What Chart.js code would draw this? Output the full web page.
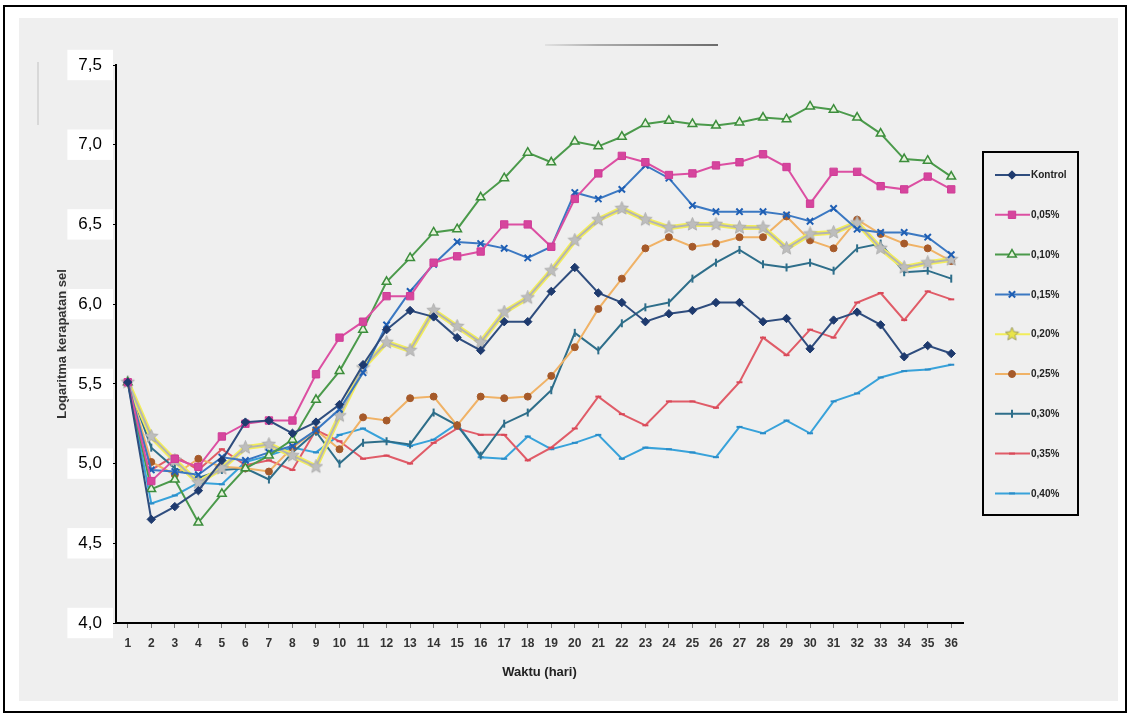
<!DOCTYPE html>
<html>
<head>
<meta charset="utf-8">
<script src="https://cdn.jsdelivr.net/npm/chart.js@4.4.1/dist/chart.umd.min.js"></script>
<style>
  html, body { margin: 0; padding: 0; background: #fff; }
  canvas { display: block; }
</style>
</head>
<body>
<canvas id="growth" width="1129" height="717"></canvas>
<script>
// Days of observation (x categories)
const days = ['1','2','3','4','5','6','7','8','9','10','11','12','13','14','15','16','17','18',
              '19','20','21','22','23','24','25','26','27','28','29','30','31','32','33','34','35','36'];

// Log of cell density per treatment
const kontrol = [5.51,4.65,4.73,4.83,5.02,5.26,5.27,5.19,5.26,5.37,5.62,5.84,5.96,5.92,5.79,5.71,5.89,5.89,
                 6.08,6.23,6.07,6.01,5.89,5.94,5.96,6.01,6.01,5.89,5.91,5.72,5.90,5.95,5.87,5.67,5.74,5.69];
const c005 = [5.51,4.89,5.03,4.98,5.17,5.25,5.27,5.27,5.56,5.79,5.89,6.05,6.05,6.26,6.30,6.33,6.50,6.50,
              6.36,6.66,6.82,6.93,6.89,6.81,6.82,6.87,6.89,6.94,6.86,6.63,6.83,6.83,6.74,6.72,6.80,6.72];
const c010 = [5.51,4.84,4.90,4.63,4.81,4.97,5.05,5.15,5.40,5.58,5.84,6.14,6.29,6.45,6.47,6.67,6.79,6.95,
              6.89,7.02,6.99,7.05,7.13,7.15,7.13,7.12,7.14,7.17,7.16,7.24,7.22,7.17,7.07,6.91,6.90,6.80];
const c015 = [5.51,4.96,4.95,4.93,5.04,5.02,5.07,5.11,5.21,5.34,5.57,5.87,6.08,6.25,6.39,6.38,6.35,6.29,
              6.36,6.70,6.66,6.72,6.87,6.79,6.62,6.58,6.58,6.58,6.56,6.52,6.60,6.47,6.45,6.45,6.42,6.31];
const c020 = [5.51,5.17,5.02,4.88,4.97,5.10,5.12,5.05,4.98,5.30,5.60,5.76,5.71,5.96,5.86,5.76,5.95,6.04,
              6.21,6.40,6.53,6.60,6.53,6.48,6.50,6.50,6.48,6.48,6.35,6.44,6.45,6.51,6.35,6.23,6.26,6.28];
const c025 = [5.51,5.01,4.93,5.03,4.98,4.97,4.95,5.10,5.21,5.09,5.29,5.27,5.41,5.42,5.24,5.42,5.41,5.42,
              5.55,5.73,5.97,6.16,6.35,6.42,6.36,6.38,6.42,6.42,6.55,6.40,6.35,6.53,6.44,6.38,6.35,6.27];
const c030 = [5.51,5.10,4.97,4.91,4.96,4.97,4.90,5.07,5.20,5.00,5.13,5.14,5.12,5.32,5.24,5.05,5.25,5.32,
              5.46,5.82,5.71,5.88,5.98,6.01,6.16,6.26,6.34,6.25,6.23,6.26,6.21,6.35,6.38,6.20,6.21,6.16];
const c035 = [5.51,4.96,5.05,4.96,5.09,4.99,5.02,4.96,5.21,5.14,5.03,5.05,5.00,5.13,5.22,5.18,5.18,5.02,
              5.10,5.22,5.42,5.31,5.24,5.39,5.39,5.35,5.51,5.79,5.68,5.84,5.79,6.01,6.07,5.90,6.08,6.03];
const c040 = [5.51,4.75,4.80,4.88,4.87,5.01,5.05,5.10,5.07,5.18,5.22,5.14,5.11,5.15,5.25,5.04,5.03,5.17,
              5.09,5.13,5.18,5.03,5.10,5.09,5.07,5.04,5.23,5.19,5.27,5.19,5.39,5.44,5.54,5.58,5.59,5.62];

const seriesLabels = ['Kontrol','0,05%','0,10%','0,15%','0,20%','0,25%','0,30%','0,35%','0,40%'];

const yMin = 4.0, yMax = 7.5, yStep = 0.5;
const xTitle = 'Waktu (hari)';
const yTitle = 'Logaritma kerapatan sel';

// filled five-point star used as a point marker
function starMarker(size, fill, stroke) {
  const cv = document.createElement('canvas');
  cv.width = size; cv.height = size;
  const g = cv.getContext('2d');
  const c = size / 2, R = size / 2 - 0.5, r = R * 0.45;
  g.beginPath();
  for (let i = 0; i < 10; i++) {
    const a = -Math.PI / 2 + i * Math.PI / 5;
    const rad = i % 2 ? r : R;
    g.lineTo(c + rad * Math.cos(a), c + rad * Math.sin(a));
  }
  g.closePath();
  g.fillStyle = fill; g.fill();
  if (stroke) { g.strokeStyle = stroke; g.lineWidth = 0.8; g.stroke(); }
  return cv;
}
const greyStar = starMarker(15, '#bdbdbd', '#a8a8a8');
const legendStar = starMarker(15, '#e9e44a', '#8a8a50');

const styles = [
  { data: kontrol, line: '#2f4d7e', point: '#1e3a6e', fill: '#1e3a6e', ps: 'rectRot', r: 4.2, bw: 1 },
  { data: c005, line: '#dc4fa2', point: '#cf3c97', fill: '#d6459d', ps: 'rect', r: 5.2, bw: 1 },
  { data: c010, line: '#4b9a4b', point: '#3c8d3c', fill: '#e6f3dc', ps: 'triangle', r: 5, bw: 1.5 },
  { data: c015, line: '#3b78c2', point: '#1f5fb4', fill: '#1f5fb4', ps: 'crossRot', r: 4.5, bw: 2 },
  { data: c020, line: '#b4b4b4', point: '#b4b4b4', fill: '#b4b4b4', ps: greyStar, r: 7, bw: 1, halo: '#f2ed5a' },
  { data: c025, line: '#f0b266', point: '#a65a2a', fill: '#a65a2a', ps: 'circle', r: 3.5, bw: 1 },
  { data: c030, line: '#2e6e8a', point: '#2e6e8a', fill: '#2e6e8a', ps: 'line', rot: 90, r: 4, bw: 2 },
  { data: c035, line: '#e05c68', point: '#d94858', fill: '#d94858', ps: 'line', r: 3, bw: 2 },
  { data: c040, line: '#38a2da', point: '#2a8cc8', fill: '#2a8cc8', ps: 'line', r: 3, bw: 2 }
];

const datasets = [];
styles.forEach((s, i) => {
  datasets.push({
    label: seriesLabels[i],
    data: s.data,
    borderColor: s.line,
    borderWidth: 2,
    pointStyle: s.ps,
    pointRotation: s.rot || 0,
    pointRadius: s.r,
    pointBorderColor: s.point,
    pointBackgroundColor: s.fill,
    pointBorderWidth: s.bw,
    tension: 0,
    order: i + 1
  });
  if (s.halo) {
    // yellow glow beneath the grey 0,20% line
    datasets.push({
      label: seriesLabels[i] + ' halo',
      data: s.data,
      borderColor: s.halo,
      borderWidth: 5,
      pointRadius: 0,
      tension: 0,
      order: i + 1.5
    });
  }
});

const FONT = "'Liberation Sans', Arial, sans-serif";

const backdrop = {
  id: 'backdrop',
  beforeDraw(chart) {
    const ctx = chart.ctx;
    ctx.save();
    ctx.fillStyle = '#ffffff';
    ctx.fillRect(0, 0, chart.width, chart.height);
    ctx.fillStyle = '#efefef';
    ctx.fillRect(19, 18, 1099, 683);
    ctx.strokeStyle = '#000';
    ctx.lineWidth = 2;
    ctx.strokeRect(4, 6, 1122, 706);
    // faint marks on the sheet
    const grad = ctx.createLinearGradient(545, 0, 720, 0);
    grad.addColorStop(0, 'rgba(60,60,60,0.1)');
    grad.addColorStop(0.3, 'rgba(40,40,40,0.45)');
    grad.addColorStop(1, 'rgba(30,30,30,0.85)');
    ctx.strokeStyle = grad;
    ctx.lineWidth = 1.6;
    ctx.beginPath(); ctx.moveTo(545, 45); ctx.lineTo(718, 45); ctx.stroke();
    ctx.strokeStyle = 'rgba(150,150,150,0.5)';
    ctx.lineWidth = 1;
    ctx.beginPath(); ctx.moveTo(38, 62); ctx.lineTo(38, 125); ctx.stroke();
    ctx.restore();
  }
};

const legendBox = {
  id: 'legendBox',
  afterDraw(chart) {
    const ctx = chart.ctx;
    ctx.save();
    ctx.strokeStyle = '#000';
    ctx.lineWidth = 2;
    ctx.strokeRect(983, 152, 95, 363);
    styles.forEach((s, i) => {
      const y = 175 + i * 39.8;
      ctx.lineWidth = 2;
      ctx.strokeStyle = s.halo ? s.halo : s.line;
      ctx.beginPath(); ctx.moveTo(995, y); ctx.lineTo(1030, y); ctx.stroke();
      ctx.fillStyle = s.fill;
      ctx.strokeStyle = s.point;
      ctx.lineWidth = s.bw;
      Chart.helpers.drawPoint(ctx, {
        pointStyle: s.halo ? legendStar : s.ps,
        rotation: s.rot || 0,
        radius: s.r,
        borderWidth: s.bw
      }, 1012, y);
      ctx.fillStyle = '#222';
      ctx.font = 'bold 10px ' + FONT;
      ctx.textAlign = 'left';
      ctx.textBaseline = 'middle';
      ctx.fillText(seriesLabels[i], 1031, y + 0.5);
    });
    ctx.restore();
  }
};

new Chart(document.getElementById('growth'), {
  type: 'line',
  data: { labels: days, datasets },
  options: {
    responsive: false,
    animation: false,
    events: [],
    layout: { padding: { left: 0, top: 65, right: 166, bottom: 14 } },
    plugins: { legend: { display: false }, tooltip: { enabled: false } },
    scales: {
      x: {
        type: 'category',
        offset: true,
        grid: { display: true, drawOnChartArea: false, tickLength: 5, color: '#777', offset: false },
        border: { color: '#000', width: 2 },
        ticks: { autoSkip: false, maxRotation: 0, padding: 8, color: '#333',
                 font: { family: FONT, size: 12, weight: 'bold' } },
        title: { display: true, text: xTitle, color: '#222',
                 font: { family: FONT, size: 13, weight: 'bold' }, padding: { top: 0, bottom: 23 } },
        afterFit(scale) { scale.height = 80; }
      },
      y: {
        min: yMin, max: yMax,
        grid: { display: true, drawOnChartArea: false, tickLength: 4, color: '#000' },
        border: { color: '#000', width: 2 },
        ticks: {
          stepSize: yStep, padding: 10, color: '#000',
          font: { family: FONT, size: 17 },
          showLabelBackdrop: true, backdropColor: '#ffffff', backdropPadding: { x: 11, y: 5 },
          callback: v => v.toFixed(1).replace('.', ',')
        },
        title: { display: true, text: yTitle, color: '#333',
                 font: { family: FONT, size: 13, weight: 'bold' }, padding: { top: 55, bottom: 0 } },
        afterFit(scale) { scale.width = 116; }
      }
    }
  },
  plugins: [backdrop, legendBox]
});
</script>
</body>
</html>
